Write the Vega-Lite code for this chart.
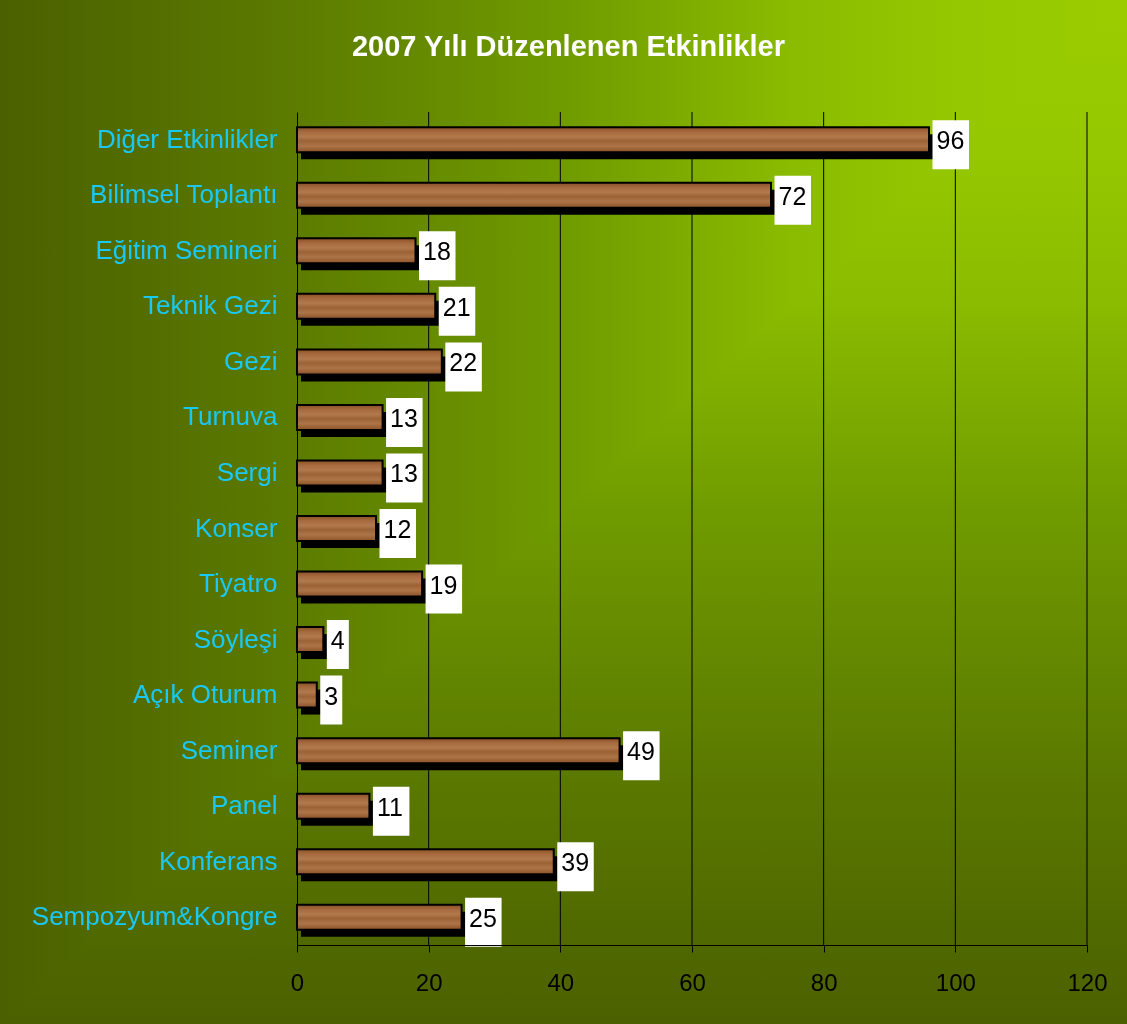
{
  "$schema": "https://vega.github.io/schema/vega-lite/v6.json",
  "width": 1127,
  "height": 1024,
  "autosize": {"type": "none"},
  "padding": 0,
  "background": "#4b6000",
  "config": {
    "view": {"stroke": null},
    "font": "Liberation Sans"
  },
  "title": {
    "text": "2007 Yılı Düzenlenen Etkinlikler",
    "anchor": "middle",
    "frame": "group",
    "orient": "top",
    "offset": -62,
    "font": "Liberation Sans",
    "fontSize": 29,
    "fontWeight": "bold",
    "color": "#ffffff",
    "dx": 5
  },
  "datasets": {
    "events": [
      {"k": "Diğer Etkinlikler", "n": 96},
      {"k": "Bilimsel Toplantı", "n": 72},
      {"k": "Eğitim Semineri", "n": 18},
      {"k": "Teknik Gezi", "n": 21},
      {"k": "Gezi", "n": 22},
      {"k": "Turnuva", "n": 13},
      {"k": "Sergi", "n": 13},
      {"k": "Konser", "n": 12},
      {"k": "Tiyatro", "n": 19},
      {"k": "Söyleşi", "n": 4},
      {"k": "Açık Oturum", "n": 3},
      {"k": "Seminer", "n": 49},
      {"k": "Panel", "n": 11},
      {"k": "Konferans", "n": 39},
      {"k": "Sempozyum&Kongre", "n": 25}
    ],
    "grid": [{"v": 20}, {"v": 40}, {"v": 60}, {"v": 80}, {"v": 100}, {"v": 120}],
    "bg": [{"a": 0, "b": 1}]
  },
  "resolve": {"scale": {"x": "independent", "y": "independent"}, "axis": {"x": "independent", "y": "independent"}},
  "layer": [
    {
      "data": {"name": "bg"},
      "mark": {
        "type": "rect",
        "fill": {
          "gradient": "linear", "x1": 1, "y1": 0, "x2": 0, "y2": 0,
          "stops": [
            {"offset": 0, "color": "#9acc00"},
            {"offset": 0.15, "color": "#96c800"},
            {"offset": 0.3, "color": "#8abb00"},
            {"offset": 0.5, "color": "#709b00"},
            {"offset": 0.75, "color": "#5b7a00"},
            {"offset": 1, "color": "#4b6000"}
          ]
        }
      },
      "encoding": {
        "x": {"field": "a", "type": "quantitative", "scale": {"domain": [0, 1], "nice": false}, "axis": null},
        "x2": {"field": "b"},
        "y": {"field": "a", "type": "quantitative", "scale": {"domain": [0, 1], "nice": false}, "axis": null},
        "y2": {"field": "b"}
      }
    },
    {
      "data": {"name": "bg"},
      "mark": {
        "type": "rect",
        "blend": "darken",
        "fill": {
          "gradient": "linear", "x1": 0, "y1": 0, "x2": 0, "y2": 1,
          "stops": [
            {"offset": 0, "color": "#9acc00"},
            {"offset": 0.15, "color": "#96c800"},
            {"offset": 0.3, "color": "#8abb00"},
            {"offset": 0.5, "color": "#709b00"},
            {"offset": 0.75, "color": "#5b7a00"},
            {"offset": 1, "color": "#4b6000"}
          ]
        }
      },
      "encoding": {
        "x": {"field": "a", "type": "quantitative", "scale": {"domain": [0, 1], "nice": false}, "axis": null},
        "x2": {"field": "b"},
        "y": {"field": "a", "type": "quantitative", "scale": {"domain": [0, 1], "nice": false}, "axis": null},
        "y2": {"field": "b"}
      }
    },
    {
      "data": {"name": "grid"},
      "mark": {"type": "rule", "color": "#000000", "strokeWidth": 1},
      "encoding": {
        "x": {"field": "v", "type": "quantitative", "scale": {"domain": [0, 120], "range": [297, 1087], "nice": false}, "axis": null},
        "y": {"datum": 0, "type": "quantitative", "scale": {"domain": [0, 1], "range": [112, 945], "nice": false}, "axis": null},
        "y2": {"datum": 1}
      }
    },
    {
      "data": {"name": "events"},
      "encoding": {
        "y": {
          "field": "k", "type": "nominal", "sort": null,
          "scale": {"range": [112, 945], "paddingInner": 0.55, "paddingOuter": 0.275},
          "axis": {
            "title": null, "offset": -297, "orient": "left", "zindex": 1,
            "domain": true, "domainColor": "#000000", "domainWidth": 1,
            "ticks": false, "tickSize": 0, "grid": false,
            "labelFont": "Liberation Sans", "labelFontSize": 26, "labelColor": "#19c8f5",
            "labelPadding": 20, "labelLimit": 500
          }
        },
        "x": {
          "field": "n", "type": "quantitative",
          "scale": {"domain": [0, 120], "range": [297, 1087], "nice": false},
          "axis": {
            "title": null, "offset": -79, "orient": "bottom", "zindex": 1,
            "values": [0, 20, 40, 60, 80, 100, 120],
            "domain": true, "domainColor": "#000000", "domainWidth": 1,
            "ticks": true, "tickColor": "#000000", "tickSize": 7, "grid": false,
            "labelFont": "Liberation Sans", "labelFontSize": 24, "labelColor": "#000000",
            "labelPadding": 19, "labelFlush": false
          }
        }
      },
      "layer": [
        {
          "mark": {"type": "bar", "color": "#000000", "xOffset": 4, "yOffset": 7}
        },
        {
          "mark": {
            "type": "bar", "stroke": "#000000", "strokeWidth": 2,
            "fill": {
              "gradient": "linear", "x1": 0, "y1": 0, "x2": 0, "y2": 1,
              "stops": [
                {"offset": 0, "color": "#8a4f26"},
                {"offset": 0.18, "color": "#a5693d"},
                {"offset": 0.38, "color": "#b27a4c"},
                {"offset": 0.55, "color": "#9c6236"},
                {"offset": 0.75, "color": "#ad7547"},
                {"offset": 1, "color": "#8c5128"}
              ]
            }
          }
        },
        {
          "transform": [{"filter": "datum.n >= 10"}],
          "mark": {"type": "bar", "color": "#ffffff", "height": 49, "yOffset": 5, "xOffset": 3.5, "x2Offset": 40},
          "encoding": {"x2": {"field": "n"}}
        },
        {
          "transform": [{"filter": "datum.n < 10"}],
          "mark": {"type": "bar", "color": "#ffffff", "height": 49, "yOffset": 5, "xOffset": 3.5, "x2Offset": 25.5},
          "encoding": {"x2": {"field": "n"}}
        },
        {
          "mark": {"type": "text", "align": "left", "baseline": "middle", "dx": 7.5, "dy": 1.5, "fontSize": 25, "font": "Liberation Sans", "color": "#000000"},
          "encoding": {"text": {"field": "n", "type": "quantitative"}}
        }
      ]
    }
  ]
}
